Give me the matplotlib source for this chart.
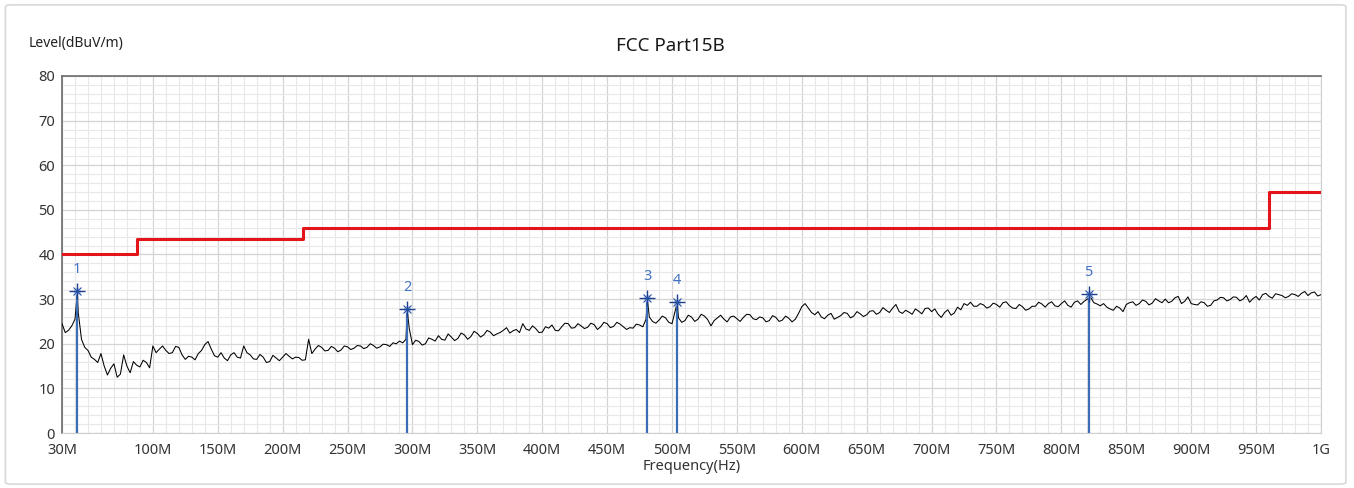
import numpy as np
import matplotlib.pyplot as plt
from matplotlib.ticker import MultipleLocator, FixedLocator
from matplotlib.patches import FancyBboxPatch

plt.rcParams['font.family'] = ['Noto Sans', 'DejaVu Sans']

# ---------------- data
# scan trace, one value every 5 MHz from 30 MHz to 1 GHz
scan_start = 30
scan_step = 5
scan_level = [
    24.5, 23.0, 25.5, 21.0, 18.5, 16.5, 17.8, 13.0, 15.5, 13.2,   # 30-75
    15.0, 16.0, 14.8, 15.8, 19.5, 18.8, 18.5, 18.0, 19.2, 16.5,   # 80-125
    17.0, 17.8, 19.8, 18.8, 17.0, 16.8, 17.5, 17.0, 19.5, 17.5,   # 130-175
    16.5, 17.0, 16.0, 16.8, 17.0, 17.2, 17.0, 16.3, 21.0, 18.8,   # 180-225
    19.2, 18.5, 19.0, 18.6, 19.3, 19.0, 19.5, 19.2, 19.6, 19.3,   # 230-275
    19.8, 20.2, 20.6, 21.0, 19.8, 20.5, 20.0, 21.0, 21.8, 20.8,   # 280-325
    21.5, 21.2, 22.0, 21.6, 22.3, 22.0, 22.6, 22.2, 23.0, 22.4,   # 330-375
    23.2, 24.5, 23.0, 23.4, 22.6, 23.5, 23.0, 23.8, 24.5, 23.6,   # 380-425
    24.0, 23.7, 24.3, 23.8, 24.5, 23.9, 24.4, 23.2, 23.5, 24.2,   # 430-475
    25.5, 25.0, 25.3, 25.8, 24.5, 25.8, 25.2, 26.0, 25.5, 26.2,   # 480-525
    24.0, 25.8, 25.5, 26.0, 25.6, 25.9, 26.5, 25.4, 25.8, 25.2,   # 530-575
    25.9, 25.3, 25.7, 25.5, 28.3, 28.0, 26.5, 26.0, 26.4, 25.5,   # 580-625
    26.3, 26.8, 26.2, 26.7, 26.5, 27.4, 27.0, 27.5, 28.0, 27.2,   # 630-675
    27.5, 26.6, 27.3, 27.9, 27.2, 26.6, 27.0, 26.4, 28.2, 29.0,   # 680-725
    29.3, 28.4, 28.7, 28.3, 28.8, 29.2, 28.5, 27.9, 28.3, 27.8,   # 730-775
    28.4, 28.9, 29.0, 28.5, 29.0, 28.6, 29.3, 28.8, 30.0, 29.2,   # 780-825
    28.5, 28.2, 27.5, 28.0, 28.8, 29.4, 29.0, 29.5, 29.1, 29.6,   # 830-875
    30.0, 29.5, 30.6, 29.5, 29.0, 28.7, 29.2, 28.6, 29.8, 30.3,   # 880-925
    29.9, 30.4, 30.0, 29.3, 30.6, 31.0, 30.6, 31.2, 30.8, 30.6,   # 930-975
    31.0, 31.3, 30.8, 31.6, 31.0,                                 # 980-1000
]
# in-between samples, 32.5 MHz to 997.5 MHz
mid_start = 32.5
mid_level = [
    22.5, 24.0, 27.0, 19.2, 17.0, 15.8, 15.0, 14.5, 12.5, 17.5,   # 32.5-77.5
    13.5, 15.2, 16.3, 14.6, 18.0, 19.5, 17.8, 19.4, 17.5, 17.2,   # 82.5-127.5
    16.4, 18.5, 20.5, 17.3, 18.0, 16.2, 18.0, 16.8, 18.0, 16.6,   # 132.5-177.5
    17.6, 15.8, 17.4, 16.2, 17.8, 16.6, 16.9, 16.4, 17.8, 19.6,   # 182.5-227.5
    18.4, 19.4, 18.2, 19.5, 18.7, 19.6, 18.9, 20.0, 19.0, 19.9,   # 232.5-277.5
    19.4, 20.0, 20.2, 23.5, 20.8, 19.7, 21.3, 20.6, 21.0, 22.2,   # 282.5-327.5
    20.7, 22.4, 21.0, 22.8, 21.5, 23.0, 21.8, 22.5, 23.6, 22.9,   # 332.5-377.5
    22.5, 23.3, 24.0, 22.5, 23.8, 24.2, 22.9, 24.6, 23.5, 24.5,   # 382.5-427.5
    23.4, 24.6, 23.2, 24.8, 23.6, 24.8, 23.8, 23.6, 24.4, 23.8,   # 432.5-477.5
    26.0, 24.6, 26.2, 24.8, 27.5, 24.8, 26.4, 25.0, 26.6, 25.4,   # 482.5-527.5
    25.2, 26.4, 24.9, 26.2, 25.0, 26.6, 25.6, 26.0, 24.9, 26.3,   # 532.5-577.5
    25.0, 26.2, 24.9, 26.8, 29.0, 27.0, 27.2, 25.6, 26.8, 25.9,   # 582.5-627.5
    27.0, 25.8, 27.2, 26.1, 27.3, 26.6, 28.1, 27.0, 28.8, 26.8,   # 632.5-677.5
    27.1, 27.8, 26.7, 28.0, 27.8, 25.9, 27.6, 26.9, 27.6, 28.6,   # 682.5-727.5
    28.4, 29.0, 28.0, 29.1, 28.2, 29.4, 28.0, 28.8, 27.5, 28.4,   # 732.5-777.5
    29.3, 28.2, 29.4, 28.3, 29.6, 28.2, 29.6, 29.5, 30.4, 28.9,   # 782.5-827.5
    29.0, 27.8, 28.4, 27.2, 29.2, 28.6, 29.8, 28.7, 30.1, 29.2,   # 832.5-877.5
    29.2, 30.3, 29.0, 30.5, 28.8, 29.4, 28.4, 29.6, 30.4, 29.6,   # 882.5-927.5
    30.5, 29.6, 30.8, 30.1, 29.8, 31.3, 30.2, 31.0, 30.3, 31.2,   # 932.5-977.5
    30.6, 31.7, 31.4, 30.7,                                       # 982.5-997.5
]

# narrow spikes on the trace at the marked frequencies
spike_freq = [41.8, 296, 481, 504, 821]
spike_level = [31.5, 27.5, 30.0, 29.2, 30.2]

# markers
marker_freq = [41.8, 296, 481, 504, 821]
marker_level = [31.8, 27.8, 30.2, 29.4, 31.2]
marker_name = ['1', '2', '3', '4', '5']

# FCC Part15B limit line
limit_freq = [30, 88, 216, 960, 1000]
limit_level = [40, 43.5, 46, 54, 54]

x_ticks = [30, 100, 150, 200, 250, 300, 350, 400, 450, 500, 550, 600,
           650, 700, 750, 800, 850, 900, 950, 1000]
x_tick_labels = ['30M', '100M', '150M', '200M', '250M', '300M', '350M', '400M',
                 '450M', '500M', '550M', '600M', '650M', '700M', '750M', '800M',
                 '850M', '900M', '950M', '1G']

# ---------------- build the trace
scan_freq = scan_start + scan_step * np.arange(len(scan_level))
mid_freq = mid_start + scan_step * np.arange(len(mid_level))
f_all = np.concatenate([scan_freq, mid_freq, spike_freq])
l_all = np.concatenate([scan_level, mid_level, spike_level])
order = np.argsort(f_all)
f_all = f_all[order]
l_all = l_all[order]

# ---------------- figure
fig = plt.figure(figsize=(13.54, 4.88), dpi=100)
fig.patches.append(FancyBboxPatch((0.004, 0.008), 0.99, 0.982,
                                  boxstyle='round,pad=0,rounding_size=0.004',
                                  transform=fig.transFigure, facecolor='white',
                                  edgecolor='#d9d9d9', linewidth=1.2, zorder=-10))
ax = fig.add_axes([0.0458, 0.1127, 0.9298, 0.7316])

ax.step(limit_freq, limit_level, where='post', color='#e3151b', linewidth=2.2, zorder=3)
ax.plot(f_all, l_all, color='black', linewidth=0.75, zorder=4)

blue = '#3b6eb5'
for f, lv, name in zip(marker_freq, marker_level, marker_name):
    ax.plot([f, f], [0, lv], color=blue, linewidth=1.6, zorder=5)
    # star-like marker: light centre, dark cross and diagonals
    ax.plot(f, lv, marker='o', markersize=5, color='#a9c4ee', markeredgewidth=0, zorder=6)
    ax.plot(f, lv, marker='+', markersize=12, color='#1d3f8c', markeredgewidth=1.0, zorder=7)
    ax.plot(f, lv, marker='x', markersize=6, color='#2c55a8', markeredgewidth=0.8, zorder=7)
    ax.text(f, lv + 3.1, name, color='#4472c4', fontsize=10.5,
            ha='center', va='bottom', zorder=6)

ax.set_xlim(30, 1000)
ax.set_ylim(0, 80)
ax.xaxis.set_major_locator(FixedLocator(x_ticks))
ax.set_xticklabels(x_tick_labels)
ax.xaxis.set_minor_locator(MultipleLocator(10))
ax.yaxis.set_major_locator(MultipleLocator(10))
ax.yaxis.set_minor_locator(MultipleLocator(2))
ax.grid(which='major', color='#d4d4d4', linewidth=0.9)
ax.grid(which='minor', color='#e8e8e8', linewidth=0.8)
ax.set_axisbelow(True)
ax.tick_params(which='both', length=0, labelsize=10.5, colors='#333333')
ax.tick_params(axis='x', pad=7)
ax.tick_params(axis='y', pad=5)

for side in ['top', 'left']:
    ax.spines[side].set_color('#6b6b6b')
    ax.spines[side].set_linewidth(1.2)
for side in ['right', 'bottom']:
    ax.spines[side].set_color('#cfcfcf')

ax.set_xlabel('Frequency(Hz)', fontsize=10.5, color='#333333', labelpad=1)
fig.text(0.495, 0.905, 'FCC Part15B', fontsize=13.5, ha='center', va='center', color='#1a1a1a')
fig.text(0.021, 0.91, 'Level(dBuV/m)', fontsize=10, ha='left', va='center', color='#222222')

fig.savefig('out.png', dpi=100)
